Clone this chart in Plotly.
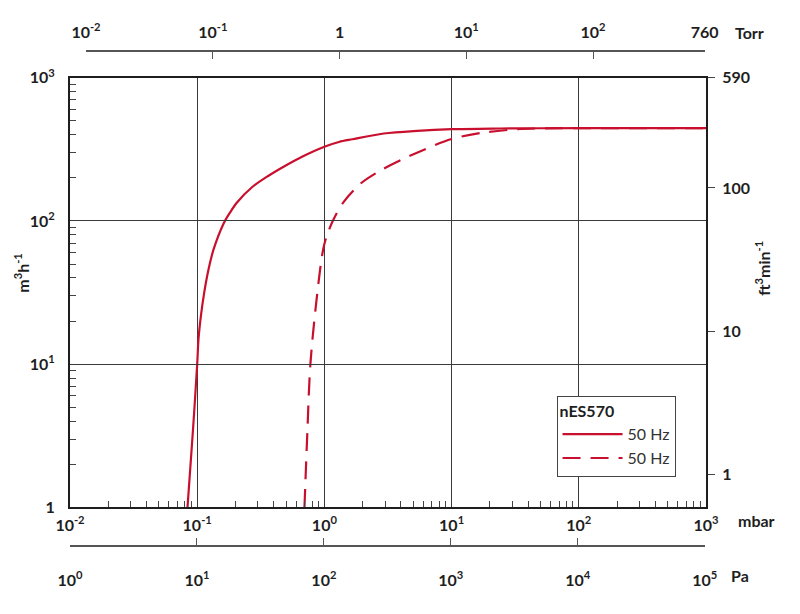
import plotly.graph_objects as go

# pumping speed curves, pressure in mbar, flow in m3/h
p_solid = [0.0839, 0.0925, 0.1, 0.1024, 0.107, 0.1135, 0.1227, 0.1343, 0.161, 0.18, 0.2055, 0.2696,
           0.364, 0.493, 0.667, 1.0, 1.3, 1.66, 2.93, 5.37, 10, 24.3, 50, 100, 1000]
q_solid = [1, 3.4, 10, 15, 21.8, 31.6, 45.8, 63, 95.7, 113.5, 134.6, 172,
           207, 243, 281, 330, 356, 372, 408, 426, 437, 442, 444, 445, 445]

p_dash = [0.697, 0.735, 0.776, 0.88, 0.977, 1.05, 1.184, 1.419, 1.92, 2.76, 4.75,
          10, 17.9, 32.9, 50, 100, 1000]
q_dash = [1, 3.4, 10, 31.6, 63, 80, 103, 136, 182, 225, 286,
          373, 414, 437, 443, 445, 445]

legend_title = 'nES570'
series_names = ['50 Hz', '50 Hz']

# axis tick labels
mbar_ticks = [1e-2, 1e-1, 1, 1e1, 1e2, 1e3]
mbar_text = ['10<sup>-2</sup>', '10<sup>-1</sup>', '10<sup>0</sup>', '10<sup>1</sup>', '10<sup>2</sup>', '10<sup>3</sup>']
flow_ticks = [1, 10, 100, 1000]
flow_text = ['1', '10<sup>1</sup>', '10<sup>2</sup>', '10<sup>3</sup>']
cfm_ticks = [1, 10, 100, 588.6]
cfm_text = ['1', '10', '100', '590']
torr_ticks = [1e-2, 1e-1, 1, 1e1, 1e2, 760]
torr_text = ['10<sup>-2</sup>', '10<sup>-1</sup>', '1', '10<sup>1</sup>', '10<sup>2</sup>', '760']
pa_ticks = [1, 1e1, 1e2, 1e3, 1e4, 1e5]
pa_text = ['10<sup>0</sup>', '10<sup>1</sup>', '10<sup>2</sup>', '10<sup>3</sup>', '10<sup>4</sup>', '10<sup>5</sup>']

RED = '#c8102e'
INK = '#1e1e1e'
FONT = 'Lato'

def minor_vals(lo, hi):
    vals = []
    for e in range(lo, hi):
        for m in range(2, 10):
            vals.append(m * 10 ** e)
    return vals

fig = go.Figure()
fig.add_trace(go.Scatter(x=p_solid, y=q_solid, name=series_names[0], mode='lines',
                         line=dict(color=RED, width=2.2, shape='spline', smoothing=0.9)))
fig.add_trace(go.Scatter(x=p_dash, y=q_dash, name=series_names[1], mode='lines',
                         line=dict(color=RED, width=2.2, dash='18px,10px', shape='spline', smoothing=0.9)))

# invisible helpers so the extra unit axes get drawn
fig.add_trace(go.Scatter(x=[0.01, 760], y=[1, 1], xaxis='x2', yaxis='y', mode='markers',
                         marker=dict(opacity=0), hoverinfo='skip', showlegend=False))
fig.add_trace(go.Scatter(x=[1, 1e5], y=[1, 1], xaxis='x3', yaxis='y', mode='markers',
                         marker=dict(opacity=0), hoverinfo='skip', showlegend=False))
fig.add_trace(go.Scatter(x=[1, 10], y=[1, 10], xaxis='x', yaxis='y2', mode='markers',
                         marker=dict(opacity=0), hoverinfo='skip', showlegend=False))

tickfont = dict(family=FONT, size=16, color=INK, weight='bold')

# the page body adds 8px, so margins are shifted by that amount
fig.update_layout(
    width=800, height=614, autosize=False,
    margin=dict(l=62, r=102, t=38, b=76),
    paper_bgcolor='white', plot_bgcolor='rgba(0,0,0,0)',
    font=dict(family=FONT, color=INK),
    showlegend=True,
    legend=dict(x=0.765, y=0.304, xanchor='left', yanchor='top',
                bgcolor='white', bordercolor='#444', borderwidth=1,
                title=dict(text='<b>' + legend_title + '</b>', font=dict(size=16, family=FONT, color=INK)),
                font=dict(size=16, family=FONT, color='#333'),
                itemwidth=60, tracegroupgap=0),
    xaxis=dict(type='log', range=[-2, 3], domain=[0, 1], anchor='y',
               tickvals=mbar_ticks, ticktext=mbar_text, ticks='', tickfont=tickfont,
               ticklabelstandoff=2,
               showline=True, linecolor=INK, linewidth=2, mirror=True,
               showgrid=True, gridcolor='#3a3a3a', gridwidth=1, zeroline=False,
               minor=dict(tickvals=minor_vals(-2, 3), ticks='inside', ticklen=6,
                          tickcolor='#444', showgrid=False)),
    yaxis=dict(type='log', range=[0, 3], domain=[0.078, 0.946], anchor='x',
               tickvals=flow_ticks, ticktext=flow_text, ticks='', tickfont=tickfont,
               ticklabelstandoff=10,
               showline=True, linecolor=INK, linewidth=2, mirror=True,
               showgrid=True, gridcolor='#3a3a3a', gridwidth=1, zeroline=False,
               minor=dict(tickvals=minor_vals(0, 3), ticks='inside', ticklen=6,
                          tickcolor='#444', showgrid=False)),
    yaxis2=dict(type='log', range=[-0.2302, 2.7698], overlaying='y', side='right', anchor='x',
                tickvals=cfm_ticks, ticktext=cfm_text, ticks='outside', ticklen=7,
                tickcolor='#444', tickfont=tickfont, ticklabelstandoff=4,
                showline=True, linecolor=INK, linewidth=2, showgrid=False, zeroline=False),
    xaxis2=dict(type='log', range=[-2, 2.8808], domain=[16 / 636, 0.998], anchor='free',
                position=1, side='top',
                tickvals=torr_ticks, ticktext=torr_text, ticks='inside', ticklen=7,
                tickcolor='#555', tickfont=tickfont, ticklabelstandoff=6,
                showline=True, linecolor='#555', linewidth=1.5, showgrid=False, zeroline=False),
    xaxis3=dict(type='log', range=[0, 5], domain=[0, 0.998], anchor='free',
                position=0, side='bottom',
                tickvals=pa_ticks, ticktext=pa_text, ticks='inside', ticklen=7,
                tickcolor='#555', tickfont=tickfont, ticklabelstandoff=20,
                showline=True, linecolor='#555', linewidth=1.5, showgrid=False, zeroline=False),
)

unit_font = dict(family=FONT, size=16, color=INK, weight='bold')
units = [
    ('Torr', 1.068, 1.038, 0),
    ('mbar', 1.080, 0.052, 0),
    ('Pa', 1.053, -0.06, 0),
    ('m<sup>3</sup>h<sup>-1</sup>', -0.0755, 0.552, -90),
    ('ft<sup>3</sup>min<sup>-1</sup>', 1.0896, 0.562, -90),
]
for text, ux, uy, angle in units:
    fig.add_annotation(text=text, x=ux, y=uy, xref='paper', yref='paper',
                       xanchor='center', yanchor='middle',
                       showarrow=False, textangle=angle, font=unit_font)

fig.write_html("out.html")
